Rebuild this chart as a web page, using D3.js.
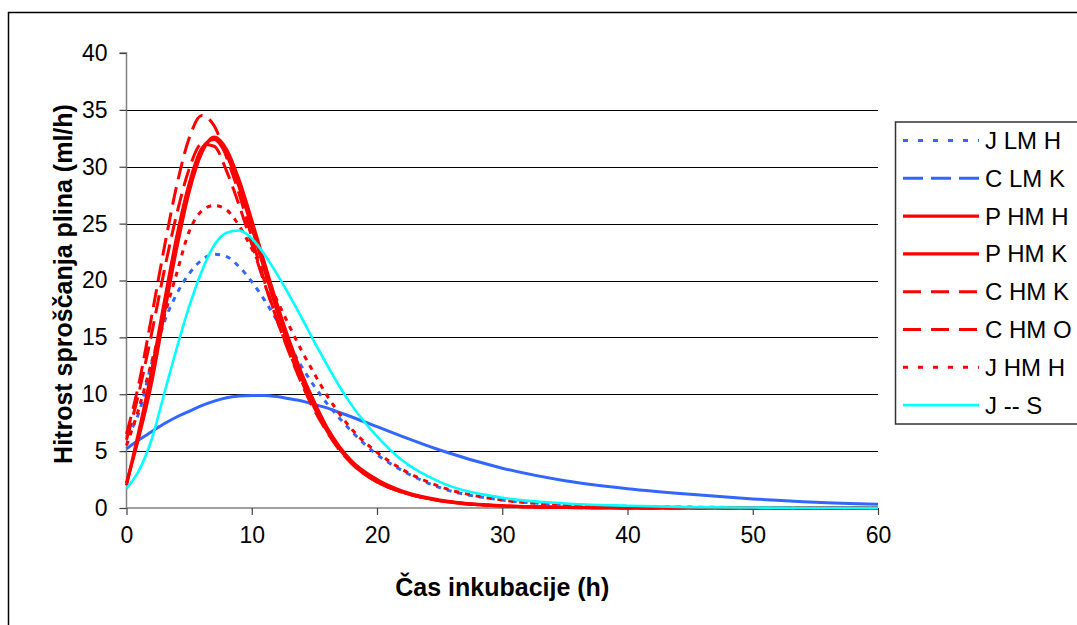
<!DOCTYPE html>
<html>
<head>
<meta charset="utf-8">
<script src="https://cdn.jsdelivr.net/npm/d3@7"></script>
<style>
  body { margin: 0; background: #fff; }
  svg { display: block; font-family: "Liberation Sans", Arial, sans-serif; }
</style>
</head>
<body>
<svg id="chart" width="1077" height="625"></svg>
<script>
// ure inkubacije
const hours = [0,1,2,3,4,5,6,7,8,9,10,11,12,13,14,15,16,17,18,20,22,25,30,35,40,45,50,55,60]

// hitrost sproscanja plina po vzorcih (ml/h)
const jLmH = [6.3,8.4,12.7,16.3,18.8,20.6,21.8,22.3,22.1,21.2,19.9,18.3,16.5,14.4,12.4,10.7,9.2,7.9,6.7,4.7,3.3,1.8,0.7,0.3,0.15,0.08,0.04,0.02,0.01]
const cLmK = [5.2,6.0,6.7,7.4,8.0,8.5,9.0,9.4,9.7,9.85,9.9,9.9,9.8,9.6,9.4,9.1,8.8,8.4,8.0,7.15,6.3,5.1,3.5,2.4,1.7,1.2,0.8,0.5,0.33]
const pHmH = [2.2,6.3,11.0,17.0,22.8,27.8,31.2,32.6,31.5,28.8,25.3,21.6,18.0,14.7,11.8,9.3,7.1,5.4,4.1,2.5,1.5,0.7,0.2,0.05,0.01,0,0,0,0]
const pHmK = [2.0,6.8,12.0,18.0,23.8,28.5,31.6,32.4,31.0,28.2,24.7,21.0,17.4,14.2,11.4,8.9,6.8,5.2,3.9,2.3,1.4,0.65,0.18,0.05,0.01,0,0,0,0]
const cHmK = [6.0,10.2,15.3,20.8,25.8,29.8,32.0,31.8,29.6,26.6,23.2,19.8,16.6,13.7,11.1,8.8,6.9,5.3,4.0,2.4,1.4,0.65,0.18,0.05,0.01,0,0,0,0]
const cHmO = [6.5,11.0,16.8,22.8,28.3,32.5,34.5,33.6,30.8,27.6,23.8,20.0,16.6,13.6,10.9,8.6,6.7,5.1,3.9,2.3,1.4,0.65,0.18,0.05,0.01,0,0,0,0]
const jHmH = [5.5,8.8,12.8,16.8,20.6,24.3,26.1,26.6,26.2,24.8,22.8,20.6,18.3,16.0,13.8,11.8,9.9,8.3,6.9,4.9,3.4,1.9,0.7,0.28,0.12,0.05,0.02,0.01,0]
const jS   = [1.7,3.3,6.0,10.0,14.0,17.7,20.8,23.1,24.2,24.4,23.7,22.3,20.6,18.7,16.7,14.6,12.6,10.7,9.0,6.3,4.2,2.3,0.9,0.4,0.2,0.08,0.04,0.02,0.01]

const seriesNames = ["J LM H","C LM K","P HM H","P HM K","C HM K","C HM O","J HM H","J -- S"]
const seriesValues = [jLmH, cLmK, pHmH, pHmK, cHmK, cHmO, jHmH, jS]

const xTicks = [0,10,20,30,40,50,60]
const yTicks = [0,5,10,15,20,25,30,35,40]

// izgled serij
const blue = "#3366FF", red = "#FF0000", cyan = "#00FFFF"
const styles = [
  {color: blue, width: 3, dash: "5,6", legendDash: "5,10"},
  {color: blue, width: 3, dash: null, legendDash: "20,8"},
  {color: red, width: 3.2, dash: null, legendDash: null},
  {color: red, width: 3.2, dash: null, legendDash: null},
  {color: red, width: 3, dash: "18,8", legendDash: "18,10"},
  {color: red, width: 3, dash: "18,8", legendDash: "18,10"},
  {color: red, width: 3, dash: "5,6", legendDash: "5,10"},
  {color: cyan, width: 2.6, dash: null, legendDash: null}
]

const svg = d3.select("#chart")
const plot = {left: 126.5, right: 878, top: 53, bottom: 508}

// okvir grafa
svg.append("rect")
  .attr("x", 8.5).attr("y", 12.5)
  .attr("width", 1100).attr("height", 700)
  .attr("fill", "#fff").attr("stroke", "#000").attr("stroke-width", 1.5)

const x = d3.scaleLinear().domain([0, 60]).range([plot.left, plot.right])
const y = d3.scaleLinear().domain([0, 40]).range([plot.bottom, plot.top])

// mreza
svg.append("g").attr("class", "grid")
  .selectAll("line")
  .data(yTicks.filter(v => v > 0 && v < 40))
  .enter().append("line")
  .attr("x1", plot.left).attr("x2", plot.right)
  .attr("y1", d => Math.round(y(d)) + 0.5).attr("y2", d => Math.round(y(d)) + 0.5)
  .attr("stroke", "#000").attr("stroke-width", 1)

// osi
const yAxis = svg.append("g")
  .attr("transform", `translate(${plot.left},0)`)
  .call(d3.axisLeft(y).tickValues(yTicks).tickSize(7).tickPadding(12))
const xAxis = svg.append("g")
  .attr("transform", `translate(0,${plot.bottom})`)
  .call(d3.axisBottom(x).tickValues(xTicks).tickSize(7).tickPadding(12))

;[yAxis, xAxis].forEach(ax => {
  ax.select(".domain").attr("stroke", "#808080").attr("stroke-width", 1.5)
  ax.selectAll(".tick line").attr("stroke", "#404040").attr("stroke-width", 1.2)
  ax.selectAll(".tick text")
    .attr("fill", "#000")
    .style("font-family", "'Liberation Sans', Arial, sans-serif")
    .style("font-size", "23px")
})
// brez crte na vrhu osi pri 40 - samo oznaka
yAxis.select(".domain").attr("d", `M-7,${y(40)}H0V${y(0)}`)
xAxis.select(".domain").attr("d", `M${plot.left},0H${plot.right}`)

// krivulje
const line = d3.line()
  .x(d => x(d[0]))
  .y(d => y(d[1]))
  .curve(d3.curveMonotoneX)

svg.append("g").attr("class", "lines")
  .selectAll("path")
  .data(seriesValues.map((vals, i) => ({i, pts: hours.map((h, k) => [h, vals[k]])})))
  .enter().append("path")
  .attr("d", d => line(d.pts))
  .attr("fill", "none")
  .attr("stroke", d => styles[d.i].color)
  .attr("stroke-width", d => styles[d.i].width)
  .attr("stroke-dasharray", d => styles[d.i].dash)
  .attr("stroke-linejoin", "round")

// legenda
const legend = svg.append("g").attr("class", "legend")
legend.append("rect")
  .attr("x", 895.5).attr("y", 122)
  .attr("width", 220).attr("height", 302)
  .attr("fill", "#fff").attr("stroke", "#333").attr("stroke-width", 1.5)

const item = legend.selectAll(".item")
  .data(seriesNames)
  .enter().append("g")
  .attr("class", "item")
  .attr("transform", (d, i) => `translate(0,${140.5 + i * 37.8})`)

item.append("line")
  .attr("x1", 903).attr("x2", 979)
  .attr("stroke", (d, i) => styles[i].color)
  .attr("stroke-width", (d, i) => styles[i].width)
  .attr("stroke-dasharray", (d, i) => styles[i].legendDash)

item.append("text")
  .attr("x", 985).attr("y", 8.5)
  .style("font-size", "24px")
  .text(d => d)

// naslovi osi
svg.append("text")
  .attr("x", (plot.left + plot.right) / 2).attr("y", 596)
  .attr("text-anchor", "middle")
  .style("font-size", "25px").style("font-weight", "bold")
  .text("Čas inkubacije (h)")

svg.append("text")
  .attr("transform", "translate(72,284) rotate(-90)")
  .attr("text-anchor", "middle")
  .style("font-size", "25px").style("font-weight", "bold")
  .text("Hitrost sproščanja plina (ml/h)")
</script>
</body>
</html>
